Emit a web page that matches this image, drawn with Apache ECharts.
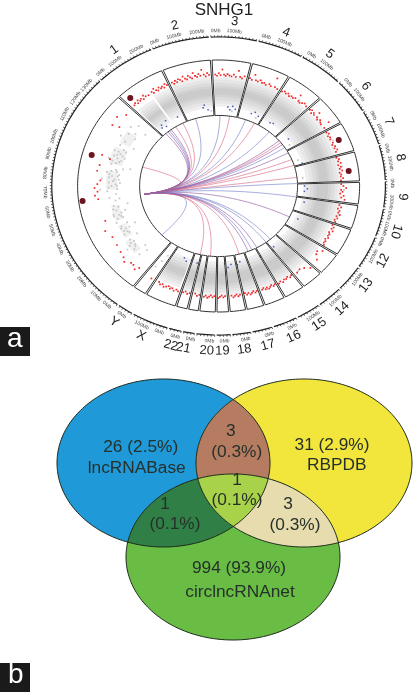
<!DOCTYPE html>
<html><head><meta charset="utf-8">
<style>html,body{margin:0;padding:0;background:#fff}#c{width:416px;height:692px}</style>
<script src="https://cdn.jsdelivr.net/npm/echarts@6/dist/echarts.min.js"></script>
</head><body><div id="c"></div>
<script>
// ---------- circos data (angle: degrees clockwise from top, r: track value) ----------
const chromEdges = [-45,-23.5,-3,13.6,30,46,60,74,88,98.6,110,123,133.6,143,152,161,168.6,175.6,181,188,192.6,197.6,211,217,315];
const chromLabels = [['1',-34.4],['2',-13.7],['3',5],['4',21.5],['5',37],['6',52.8],['7',67],['8',80],['9',93.8],['10',106],['12',117],['13',127],['14',138],['15',147],['16',156],['17',164.5],['18',172],['19',178.8],['20',183.7],['21',191],['22',195],['X',204.8],['Y',214.5]];
const tickLabels = [['0Mb',-42.8],['100Mb',-36.6],['200Mb',-28.3],['0Mb',-21.6],['100Mb',-14.9],['200Mb',-7.2],['0Mb',-1],['100Mb',5.2],['0Mb',15.9],['100Mb',22.3],['0Mb',32.4],['100Mb',38.5],['0Mb',48.2],['100Mb',54],['0Mb',63],['100Mb',69],['0Mb',76],['100Mb',81.6],['0Mb',89],['100Mb',96],['0Mb',101],['100Mb',106],['0Mb',111],['100Mb',117],['100Mb',126.9],['100Mb',137.7],['100Mb',147],['0Mb',154.9],['0Mb',163],['0Mb',171],['0Mb',178],['0Mb',183],['0Mb',189.3],['0Mb',194.4],['0Mb',200],['100Mb',206.3],['0Mb',213.9],['0Mb',220],['10Mb',225],['20Mb',232],['30Mb',238.9],['40Mb',246.2],['50Mb',253.4],['60Mb',260.2],['70Mb',267.7],['80Mb',274.9],['90Mb',282.1],['100Mb',288.7],['110Mb',297.6],['120Mb',304.4],['130Mb',310.5]];
// gray density band read per chromosome: [from, to, rInner, rOuter]
const grayBand = [[-43.5,-34,.61,.83],[-32.8,-24.5,.62,.85],[-22.5,-4,.62,.87],[-2,12.8,.63,.87],[14.4,29.2,.63,.87],[30.8,45.2,.62,.87],[46.8,59.2,.62,.87],[60.8,73.2,.62,.87],[74.8,87.2,.62,.87],[88.8,97.8,.6,.87],[99.4,109.2,.6,.87],[110.8,122.2,.6,.85],[123.8,132.8,.6,.86],[134.4,142.2,.6,.86],[143.8,151.2,.6,.87],[152.8,160.2,.6,.87],[161.8,167.8,.6,.87],[169.4,174.8,.6,.87],[176.4,180.2,.6,.87],[181.8,187.2,.6,.87],[188.8,191.8,.6,.87],[193.4,196.8,.6,.87],[199,210,.61,.85]];
// sparse clouds on the large left sector
const sparseBand = [[228,236,.74,.8],[238,246,.72,.78],[249,258,.72,.78],[268,279,.72,.8],[283,293,.7,.8],[296,304,.7,.78]];
const grayDots = [[225,.72],[228,.7],[231,.76],[226,.78],[234,.74],[237,.69],[236,.76],[240,.73],[243,.74],[246,.71],[248,.78],[245,.76],[250,.72],[252,.74],[254,.69],[253,.78],[258,.76],[261,.74],[263,.78],[262,.71],[265,.73],[267,.79],[268,.72],[270,.76],[272,.7],[274,.74],[275,.78],[277,.71],[278,.8],[280,.74],[281,.69],[283,.78],[285,.73],[286,.81],[288,.7],[289,.76],[291,.79],[293,.73],[295,.77],[296,.67],[298,.75],[300,.8],[302,.7],[303,.76],[305,.72],[307,.78],[308,.66],[310,.74],[274,.83],[268,.84],[282,.64],[258,.66],[244,.66],[232,.82],[271,.73],[272,.78],[273,.75],[274,.71],[276,.76],[276,.72],[277,.78],[279,.73],[279,.77],[270,.72],[269,.78],[284,.75],[285,.78],[286,.72],[287,.75],[288,.78],[289,.72],[290,.74],[291,.76],[292,.71],[250,.76],[251,.73],[252,.78],[253,.72],[255,.75],[256,.77],[257,.73],[240,.77],[241,.74],[242,.76],[243,.71],[244,.77],[230,.78],[232,.75],[233,.79],[234,.77],
[-20,.89],[-11,.89],[-5,.6],[4,.89],[9,.6],[20,.89],[26,.6],[40,.89],[52,.89],[57,.6],[66,.89],[70,.6],[80,.89],[84,.6],[92,.89],[105,.88],[116,.87],[128,.88],[140,.88],[157,.89],[171,.89],[185,.89],[203,.87],[214,.72],[213,.66],[215,.78]];
const redDots = [[-43,.875],[-42,.885],[-41,.87],[-40.2,.89],[-39.4,.875],[-38.5,.885],[-37.6,.87],[-36.8,.895],[-36,.88],[-34.6,.875],[-32.5,.885],[-31.8,.87],[-31,.9],[-30.2,.88],[-29.4,.87],[-28.6,.89],[-27.8,.875],[-27,.885],[-26.2,.87],[-25.4,.895],[-24.6,.88],[-22,.885],[-21.2,.87],[-20.4,.89],[-19.6,.875],[-18.8,.895],[-18,.885],[-17.2,.87],[-16.4,.905],[-15.6,.885],[-14.8,.875],[-14,.9],[-13.2,.885],[-12.4,.875],[-11.6,.915],[-10.8,.89],[-10,.88],[-9.2,.9],[-8.4,.885],[-7.6,.93],[-6.8,.89],[-6,.875],[-5.2,.9],[-4.4,.885],[-1.5,.885],[-.7,.875],[.1,.895],[.9,.88],[1.7,.925],[2.5,.885],[3.3,.875],[4.1,.89],[5,.88],[6,.875],[7,.89],[8,.875],[9,.925],[10,.88],[11,.87],[12,.89],[14.6,.885],[15.6,.875],[16.5,.92],[17.5,.88],[18.5,.875],[19.5,.89],[20.6,.875],[21.6,.88],[22.6,.87],[24,.885],[25,.875],[26,.95],[27,.88],[28.4,.875],[31,.875],[32,.885],[33,.875],[34,.885],[35,.87],[36,.88],[37,.875],[38,.885],[39,.925],[40,.88],[41,.875],[42,.885],[43,.895],[44.5,.885],[47,.885],[47.8,.895],[48.6,.875],[49.4,.89],[50.2,.88],[51,.92],[52,.885],[53,.875],[54,.89],[55,.88],[56,.875],[57,.93],[58.4,.88],[61,.875],[62,.885],[63,.87],[64,.88],[65,.875],[66,.925],[67,.88],[68,.87],[69,.885],[70,.875],[71,.89],[72,.875],[75,.865],[76,.88],[77,.87],[78,.885],[79,.865],[80,.88],[81,.87],[82,.885],[83,.865],[84,.875],[85,.87],[86,.885],[87,.87],[89,.87],[90,.885],[91,.905],[92,.87],[93,.88],[94,.865],[95,.89],[96,.875],[97,.9],[100,.87],[101,.885],[102,.865],[103,.88],[104,.875],[105,.89],[106,.87],[107,.88],[108,.865],[109,.875],[111,.865],[112,.88],[113,.87],[114,.885],[115,.865],[116,.875],[117,.87],[118,.88],[119,.865],[120,.875],[121,.87],[122,.88],[125,.9],[126.5,.87],[128,.88],[130,.91],[135,.92],[137,.89],[139,.875],[141,.885],[144,.875],[145,.885],[146,.87],[147,.88],[148,.875],[149,.89],[150,.875],[151,.885],[153,.875],[153.8,.885],[154.6,.87],[155.4,.88],[156.2,.89],[157,.875],[157.8,.885],[158.6,.87],[159.4,.88],[162,.875],[162.8,.885],[163.6,.87],[164.4,.88],[165.2,.89],[166,.875],[166.8,.885],[167.6,.87],[170,.875],[170.8,.885],[171.6,.87],[172.4,.88],[173.2,.89],[174,.875],[177,.875],[177.8,.885],[178.6,.87],[179.4,.88],[180.2,.89],[182,.875],[182.8,.885],[183.6,.87],[184.4,.88],[185.2,.89],[186,.875],[186.8,.885],[189,.875],[190,.885],[191,.87],[193.6,.875],[194.6,.885],[195.6,.87],[196.6,.88],[199,.885],[200,.875],[201,.89],[202,.875],[203,.885],[204,.87],[205,.88],[206,.89],[207,.875],[208,.885],[209,.87],[213,.875],
[220.9,.86],[222,.89],[224,.87],[225.5,.87],[228,.9],[230,.88],[233,.87],[237,.86],[241.7,.855],[246,.88],[251,.85],[263,.86],[265,.88],[267,.86],[269,.88],[271,.86],[273,.84],[278,.87],[281.2,.86],[285.5,.8],[286.6,.862],[302.7,.895],[303.6,.845],[307.3,.905],[310.7,.864]];
const blueDots = [[-41,.61],[-40,.63],[-38,.6],[-36,.64],[-28,.62],[-10,.63],[-9,.65],[-7,.61],[6,.63],[7.5,.61],[9,.64],[11,.62],[22,.62],[24,.64],[27,.62],[36,.62],[38,.63],[53,.62],[73,.62],[90,.61],[92,.63],[94,.61],[102,.62],[115,.62],[141,.62],[143,.64],[152,.63],[166,.62],[168,.64],[172,.63],[174,.65],[176,.62],[194,.63],[198,.62],[201,.64],[203,.62]];
const maroonDots = [[-41.9,.938],[-74.7,.933],[263,.972],[66.8,.927],[82.7,.93]];
const chordEnds = [[-74.5,'r'],[-42,'p'],[-40,'p'],[-38.5,'b'],[-37,'p'],[-33,'r'],[-27,'r'],[-17,'b'],[1,'b'],[8,'r'],[20,'b'],[27,'r'],[40,'b'],[50,'p'],[52,'r'],[54,'p'],[57,'b'],[62,'p'],[68,'r'],[73,'r'],[83,'r'],[88,'b'],[99,'b'],[116,'p'],[139,'b'],[143,'b'],[151,'p'],[155,'b'],[158,'p'],[165,'r'],[186,'r'],[193.6,'r'],[226,'b']];
const hubAngle = 263;
// ---------- venn data ----------
const setNames = ['lncRNABase','RBPDB','circlncRNAnet'];
const onlyCounts = ['26 (2.5%)','31 (2.9%)','994 (93.9%)'];
const overlapCounts = ['3','(0.3%)','1','(0.1%)','1','(0.1%)','3','(0.3%)'];
const panelLetters = ['a','b'];

// ---------- layout / style ----------
const TAU = Math.PI/180;
const uv = (t,r)=>[r*Math.sin(t*TAU), r*Math.cos(t*TAU)];
const R_BOX=1, R_IN=.56, R_RING=1.183, R_TICK=1.232, R_NAME=1.31;
const gap=.35;
const chordColor={r:'#d8607c',b:'#6a76c6',p:'#8d4f9f'};
const ELL={a:{cx:163.5,cy:463,rx:106.5,ry:84},b:{cx:304,cy:463,rx:108,ry:84},c:{cx:233,cy:557,rx:107,ry:83}};
const FONT='"Liberation Sans",Arial,sans-serif';
const normT=t=>((t%360)+360)%360;
const labelRot=t=>{const n=normT(t);return (n<=112||n>=268)?-t*TAU:(180-n)*TAU;};

function arc(a0,a1,r,step){const p=[];const n=Math.max(2,Math.ceil(Math.abs(a1-a0)/(step||1.5)));for(let i=0;i<=n;i++)p.push(uv(a0+(a1-a0)*i/n,r));return p;}
const circos=(items,draw,z)=>({type:'custom',xAxisIndex:0,yAxisIndex:0,z:z,silent:true,clip:false,animation:false,
  data:items.map((_,i)=>[i]),encode:{x:0,y:0},renderItem:(params,api)=>draw(items[params.dataIndex],params.dataIndex,api)});
const venn=(items,draw,z)=>({type:'custom',xAxisIndex:1,yAxisIndex:1,z:z,silent:true,clip:false,animation:false,
  data:items.map((_,i)=>[i]),encode:{x:0,y:0},renderItem:(params,api)=>draw(items[params.dataIndex],params.dataIndex,api)});
const toPts=(pts,api)=>pts.map(p=>api.coord(p));
const chromSpans=chromEdges.slice(0,-1).map((e,i)=>[e+gap,chromEdges[i+1]-gap]);

function chordPts(end){const p0=uv(hubAngle,.53),p2=uv(end,R_IN),pts=[];
  for(let i=0;i<=30;i++){const t=i/30,a=(1-t)*(1-t),c=t*t;pts.push([a*p0[0]+c*p2[0],a*p0[1]+c*p2[1]]);}return pts;}

function ellPts(e,n){const p=[];for(let i=0;i<n;i++){const a=i/n*2*Math.PI;p.push([e.cx+e.rx*Math.cos(a),e.cy+e.ry*Math.sin(a)]);}return p;}
const inside=(e,p)=>((p[0]-e.cx)/e.rx)**2+((p[1]-e.cy)/e.ry)**2<=1;
function convexIntersection(list){let pts=[];list.forEach(e=>{ellPts(e,720).forEach(p=>{if(list.every(o=>o===e||inside(o,p)))pts.push(p);});});
  const mx=pts.reduce((s,p)=>s+p[0],0)/pts.length,my=pts.reduce((s,p)=>s+p[1],0)/pts.length;
  return pts.sort((u,v)=>Math.atan2(u[1]-my,u[0]-mx)-Math.atan2(v[1]-my,v[0]-mx));}
const vennFills=[
 {sets:[ELL.a],fill:'#1f99d8'},{sets:[ELL.b],fill:'#f2e63c'},{sets:[ELL.c],fill:'#69bd45'},
 {sets:[ELL.a,ELL.b],fill:'#b67c62'},{sets:[ELL.a,ELL.c],fill:'#2f7f47'},{sets:[ELL.b,ELL.c],fill:'#e7dcae'},
 {sets:[ELL.a,ELL.b,ELL.c],fill:'#a9d24b'}];
const vennTexts=[
 [onlyCounts[0],140.7,448],[setNames[0],136.7,469],[overlapCounts[0],230.7,432],[overlapCounts[1],236.7,452.7],
 [onlyCounts[1],332,446],[setNames[1],336.7,466],[overlapCounts[2],237,480.7],[overlapCounts[3],237,500.7],
 [overlapCounts[4],165,505],[overlapCounts[5],175,525],[overlapCounts[6],288,505],[overlapCounts[7],295,525.7],
 [onlyCounts[2],239,569],[setNames[2],240,592.7]];

const chart=echarts.init(document.getElementById('c'),null,{renderer:'canvas'});
const hideAxis={show:false,axisLine:{show:false},splitLine:{show:false}};
const U=1.4, cx=220, cy=186, rx=142, ry=126;
const sector=(b,d,api,fill)=>({type:'polygon',shape:{points:toPts(arc(b[0],b[1],b[2]+d).concat(arc(b[1],b[0],b[3]-d)),api)},style:{fill:fill}});
const dots=(arr,size,color,z)=>({type:'scatter',xAxisIndex:0,yAxisIndex:0,z:z,silent:true,symbol:'rect',symbolSize:size,itemStyle:{color:color,opacity:1},data:arr.map(d=>uv(d[0],d[1]))});
const option={
 animation:false,backgroundColor:'#fff',
 title:{text:'SNHG1',left:219,top:-3,textAlign:'center',textStyle:{fontFamily:FONT,fontSize:17,fontWeight:'normal',color:'#222'}},
 grid:[{left:cx-U*rx,top:cy-U*ry,width:2*U*rx,height:2*U*ry},{left:0,top:0,width:416,height:692}],
 xAxis:[{type:'value',min:-U,max:U,gridIndex:0,...hideAxis},{type:'value',min:0,max:416,gridIndex:1,...hideAxis}],
 yAxis:[{type:'value',min:-U,max:U,gridIndex:0,...hideAxis},{type:'value',min:0,max:692,inverse:true,gridIndex:1,...hideAxis}],
 graphic:[
  {type:'rect',left:0,top:327,shape:{width:30,height:29},style:{fill:'#1a1a1a'},z:50},
  {type:'text',left:7,top:325,style:{text:panelLetters[0],fill:'#fff',font:'28px '+FONT},z:51},
  {type:'rect',left:0,top:663,shape:{width:30,height:29},style:{fill:'#1a1a1a'},z:50},
  {type:'text',left:8,top:661,style:{text:panelLetters[1],fill:'#fff',font:'28px '+FONT},z:51}
 ],
 series:[
  circos(grayBand,(b,i,api)=>({type:'group',children:[
    sector(b,0,api,'#efefef'),sector(b,.025,api,'#e6e6e6'),sector(b,.05,api,'#dcdcdc'),sector(b,.075,api,'#d3d3d3'),sector(b,.095,api,'#cbcbcb')
  ]}),1),
  circos(sparseBand,(b,i,api)=>sector(b,0,api,'#f0f0f0'),1),
  dots(grayDots,1.7,'#c4c4c4',2),
  dots(blueDots,1.5,'#4a58b8',3),
  dots(redDots,1.7,'#ee2a2a',3),
  {type:'scatter',xAxisIndex:0,yAxisIndex:0,z:3,silent:true,symbolSize:6,itemStyle:{color:'#6e1420',opacity:1},data:maroonDots.map(d=>uv(d[0],d[1]))},
  circos(chromSpans,(s,i,api)=>({type:'polygon',shape:{points:toPts(arc(s[0],s[1],R_BOX).concat(arc(s[1],s[0],R_IN)),api)},
    style:{fill:'none',stroke:'#333',lineWidth:1}}),4),
  circos(chromSpans,(s,i,api)=>{const kids=[{type:'polyline',shape:{points:toPts(arc(s[0],s[1],R_RING),api)},style:{fill:'none',stroke:'#222',lineWidth:1.2}}];
    for(let a=s[0];a<=s[1]+.01;a+=1.2){const p=api.coord(uv(a,R_RING)),q=api.coord(uv(a,R_RING+.014));kids.push({type:'line',shape:{x1:p[0],y1:p[1],x2:q[0],y2:q[1]},style:{stroke:'#333',lineWidth:.8}});}
    return{type:'group',children:kids};},4),
  circos(tickLabels,(t,i,api)=>{const p=api.coord(uv(t[1],R_TICK));return{type:'text',x:p[0],y:p[1],rotation:labelRot(t[1]),
    style:{text:t[0],textAlign:'center',textVerticalAlign:'middle',fontSize:5,fontFamily:FONT,fill:'#444'}};},5),
  circos(chromLabels,(t,i,api)=>{const p=api.coord(uv(t[1],R_NAME));return{type:'text',x:p[0],y:p[1],rotation:labelRot(t[1]),
    style:{text:t[0],textAlign:'center',textVerticalAlign:'middle',fontSize:13,fontFamily:FONT,fill:'#222'}};},5),
  circos(chordEnds,(c,i,api)=>({type:'polyline',shape:{points:toPts(chordPts(c[0]),api)},style:{fill:'none',stroke:chordColor[c[1]],lineWidth:.7,opacity:.85}}),3),
  venn(vennFills,(f,i,api)=>({type:'polygon',shape:{points:toPts(convexIntersection(f.sets),api)},style:{fill:f.fill}}),10),
  venn([ELL.a,ELL.b,ELL.c],(e,i,api)=>({type:'polygon',shape:{points:toPts(ellPts(e,240),api)},style:{fill:'none',stroke:'#1c2a1c',lineWidth:1}}),11),
  venn(vennTexts,(t,i,api)=>{const p=api.coord([t[1],t[2]]);return{type:'text',x:p[0],y:p[1],scaleX:1.08,
    style:{text:t[0],textAlign:'center',textVerticalAlign:'middle',fontSize:16,fontFamily:FONT,fill:'#26302a'}};},12)
 ]
};
chart.setOption(option);
</script></body></html>
